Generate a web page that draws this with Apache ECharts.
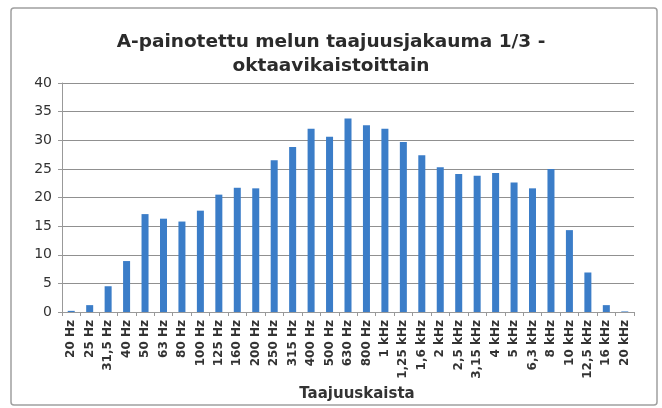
<!DOCTYPE html>
<html>
<head>
<meta charset="utf-8">
<script src="https://cdn.jsdelivr.net/npm/echarts@6/dist/echarts.min.js"></script>
<style>
  html, body { margin: 0; padding: 0; background: #fff; }
  #chart { width: 662px; height: 408px; }
</style>
</head>
<body>
<div id="chart"></div>
<script>
// taajuuskaistat (1/3-oktaavi)
var bands = ['20 Hz', '25 Hz', '31,5 Hz', '40 Hz', '50 Hz', '63 Hz', '80 Hz', '100 Hz', '125 Hz',
  '160 Hz', '200 Hz', '250 Hz', '315 Hz', '400 Hz', '500 Hz', '630 Hz', '800 Hz', '1 kHz',
  '1,25 kHz', '1,6 kHz', '2 kHz', '2,5 kHz', '3,15 kHz', '4 kHz', '5 kHz', '6,3 kHz', '8 kHz',
  '10 kHz', '12,5 kHz', '16 kHz', '20 kHz'];
// A-painotettu taso, dB
var levels = [0.2, 1.2, 4.5, 8.9, 17.1, 16.3, 15.8, 17.7, 20.5,
  21.7, 21.6, 26.5, 28.8, 32.0, 30.6, 33.8, 32.6, 32.0,
  29.7, 27.4, 25.3, 24.1, 23.8, 24.3, 22.6, 21.6, 25.0,
  14.3, 6.9, 1.2, 0.1];
var yTicks = [0, 5, 10, 15, 20, 25, 30, 35, 40];

var font = 'Verdana, "DejaVu Sans", sans-serif';
var chart = echarts.init(document.getElementById('chart'));

var option = {
  animation: false,
  backgroundColor: '#fff',
  graphic: [{
    type: 'rect',
    shape: { x: 11, y: 8, width: 646, height: 397, r: 3 },
    style: { fill: 'none', stroke: '#a0a0a0', lineWidth: 1.5 },
    silent: true
  }],
  title: {
    text: 'A-painotettu melun taajuusjakauma 1/3 -\noktaavikaistoittain',
    left: 'center',
    top: 25,
    textStyle: {
      fontFamily: font,
      fontSize: 18.5,
      fontWeight: 'bold',
      color: '#2b2b2b',
      lineHeight: 24
    }
  },
  grid: {
    left: 62,
    right: 28,
    top: 83,
    bottom: 96,
    outerBoundsMode: 'none'
  },
  xAxis: {
    type: 'category',
    data: bands,
    name: 'Taajuuskaista',
    nameLocation: 'middle',
    nameGap: 72,
    nameTextStyle: { fontFamily: font, fontSize: 15, fontWeight: 'bold', color: '#333', padding: [0, 0, 0, 18] },
    axisLine: { lineStyle: { color: '#999' } },
    axisTick: { show: true, alignWithLabel: false, length: 4, lineStyle: { color: '#999' } },
    axisLabel: {
      rotate: 90,
      interval: 0,
      hideOverlap: false,
      fontFamily: font,
      fontSize: 12,
      fontWeight: 'bold',
      color: '#333',
      margin: 8
    }
  },
  yAxis: {
    type: 'value',
    min: 0,
    max: 40,
    interval: 5,
    name: 'dB',
    nameLocation: 'middle',
    nameGap: 32,
    nameRotate: 90,
    nameTextStyle: { fontFamily: font, fontSize: 15, fontWeight: 'bold', color: '#333', padding: [0, 0, 28, 0] },
    axisLine: { show: true, lineStyle: { color: '#999' } },
    axisTick: { show: true, length: 4, lineStyle: { color: '#999' } },
    axisLabel: {
      fontFamily: font,
      fontSize: 14,
      color: '#333',
      margin: 10,
      formatter: function (v) { return yTicks.indexOf(v) >= 0 ? String(v) : ''; }
    },
    splitLine: { show: true, lineStyle: { color: '#909090', width: 1 } }
  },
  series: [{
    type: 'bar',
    data: levels,
    barWidth: '38%',
    itemStyle: { color: '#3b7dc8' }
  }]
};

chart.setOption(option);
</script>
</body>
</html>
